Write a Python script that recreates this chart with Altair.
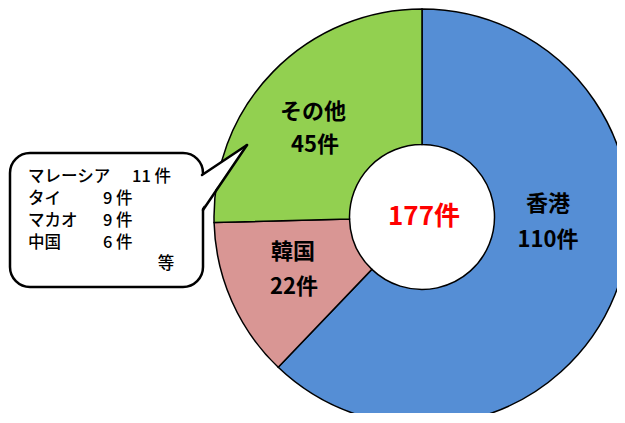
import altair as alt
import pandas as pd

# ---- data ----
regions = ["香港", "韓国", "その他"]
counts = [110, 22, 45]
colors = ["#558ED5", "#D99694", "#92D050"]
others_names = ["マレーシア", "タイ", "マカオ", "中国"]
others_counts = [11, 9, 9, 6]
total = sum(counts)

FONT = "Noto Sans CJK JP"

pie_df = pd.DataFrame({"region": regions, "count": counts, "idx": list(range(len(regions)))})
one = pd.DataFrame({"k": [0]})

CX, CY = 414, 209
R_OUT, R_IN = 208, 72.5

pie = alt.Chart(pie_df).mark_arc(
    outerRadius=R_OUT, innerRadius=R_IN, stroke="black", strokeWidth=1.5
).encode(
    theta=alt.Theta("count:Q", stack=True),
    order=alt.Order("idx:Q"),
    color=alt.Color("region:N", scale=alt.Scale(domain=regions, range=colors), legend=None),
    x=alt.value(CX),
    y=alt.value(CY),
)

layers = [pie]


def txt(s, x, y, size=22, weight="bold", color="black", align="center"):
    return alt.Chart(one).mark_text(
        text=s, font=FONT, fontSize=size, fontWeight=weight, color=color,
        align=align, baseline="middle"
    ).encode(x=alt.value(x), y=alt.value(y))


# slice labels
label_pos = {"香港": ((540, 196), (540, 232)),
             "その他": ((305, 104), (307, 137)),
             "韓国": ((285, 244), (286, 279))}
for r, c in zip(regions, counts):
    (x1, y1), (x2, y2) = label_pos[r]
    layers.append(txt(r, x1, y1, size=22, weight=600))
    layers.append(txt(f"{c}件", x2, y2, size=22, weight=600))

layers.append(txt(f"{total}件", 416, 209, size=26, color="#FF0000"))

# speech bubble
bubble = alt.Chart(one).mark_rect(
    fill="white", stroke="black", strokeWidth=2.5, cornerRadius=20
).encode(x=alt.value(2), x2=alt.value(195), y=alt.value(145), y2=alt.value(279))
layers.append(bubble)

ptr_df = pd.DataFrame({"px": [192.5, 239], "top": [168.0, 137], "bot": [202.5, 137]})
ptr_fill = alt.Chart(ptr_df).mark_area(fill="white").encode(
    x=alt.X("px:Q", scale=None), y=alt.Y("top:Q", scale=None), y2="bot:Q"
)
layers.append(ptr_fill)
layers.append(alt.Chart(one).mark_rule(color="black", strokeWidth=2.5, strokeCap="round").encode(
    x=alt.value(194), y=alt.value(167), x2=alt.value(239), y2=alt.value(137)))
layers.append(alt.Chart(one).mark_rule(color="black", strokeWidth=2.5, strokeCap="round").encode(
    x=alt.value(239), y=alt.value(137), x2=alt.value(195), y2=alt.value(202)))

row_y = [169, 191, 213, 235]
count_x = [124, 95, 95, 95]
for name, c, yy, cx in zip(others_names, others_counts, row_y, count_x):
    layers.append(txt(name, 20, yy, size=16.5, weight=500, align="left"))
    layers.append(txt(f"{c} 件", cx, yy, size=16.5, weight=500, align="left"))
layers.append(txt("等", 158, 256, size=16.5, weight=500))

chart = alt.layer(*layers).properties(
    width=609, height=405, padding=0, autosize="none", background="white"
).configure_view(stroke=None)

chart.save("out.html", embed_options={"renderer": "svg", "actions": False})
